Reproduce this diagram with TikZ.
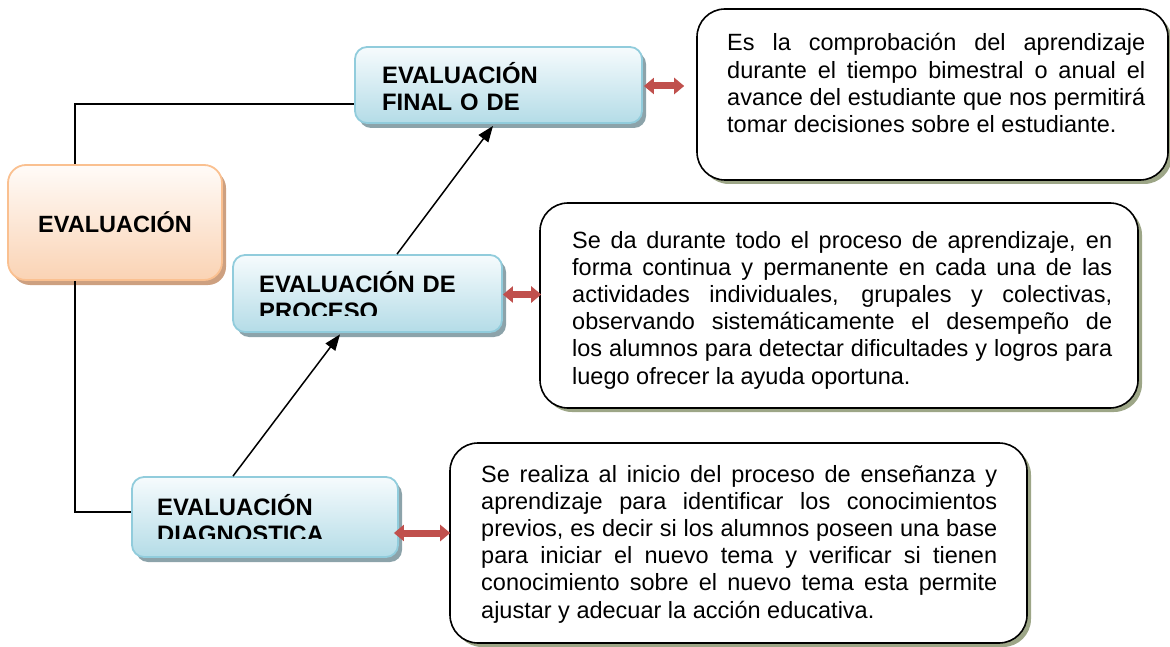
\documentclass[tikz,border=0pt]{standalone}
\usepackage{fontspec}
\setmainfont{Liberation Sans}
\usetikzlibrary{arrows.meta,shadows,calc}
\definecolor{redA}{RGB}{192,80,77}
\definecolor{tborder}{RGB}{145,204,220}
\definecolor{ttop}{RGB}{246,251,253}
\definecolor{tbot}{RGB}{180,220,231}
\definecolor{tshadow}{RGB}{140,163,170}
\definecolor{eborder}{RGB}{250,192,144}
\definecolor{etop}{RGB}{255,251,248}
\definecolor{ebot}{RGB}{250,211,180}
\definecolor{eshadow}{RGB}{205,160,128}
\definecolor{dshadow}{RGB}{157,166,135}
\begin{document}
\begin{tikzpicture}[x=1pt,y=-1pt,
  tbox/.style={rounded corners=12pt, draw=tborder, line width=1.8pt,
    top color=ttop, bottom color=tbot,
    drop shadow={shadow xshift=4pt, shadow yshift=-5pt, fill=tshadow, opacity=1}},
  evbox/.style={rounded corners=18pt, draw=eborder, line width=1.8pt,
    top color=etop, bottom color=ebot,
    drop shadow={shadow xshift=4pt, shadow yshift=-5pt, fill=eshadow, opacity=1},
    font=\bfseries\fontsize{23.5}{27}\selectfont},
  dbox/.style={rounded corners=28pt, draw=black, line width=1.6pt, fill=white,
    drop shadow={shadow xshift=4pt, shadow yshift=-4pt, fill=dshadow, opacity=1}},
  ttext/.style={anchor=base west, inner sep=0pt, text width=260pt, align=left,
    font=\bfseries\fontsize{23.8}{27}\selectfont},
  dtext/.style={anchor=base west, inner sep=0pt, align=justify,
    font=\fontsize{23.5}{27.2}\selectfont},
  redarr/.style={draw=redA, line width=7pt,
    arrows={Triangle[width=16pt,length=10pt]-Triangle[width=16pt,length=10pt]}},
  blkarr/.style={draw=black, line width=1.5pt, -{Triangle[width=12pt,length=16pt]}},
  tree/.style={draw=black, line width=1.5pt}
]
\useasboundingbox (0,0) rectangle (1170,647);

% description boxes
\node[dbox, minimum width=471pt, minimum height=171pt] (d1) at (932.5,94.5) {};
\node[dbox, minimum width=598pt, minimum height=205pt] (d2) at (839,305.5) {};
\node[dbox, minimum width=577pt, minimum height=200pt] (d3) at (738.5,543) {};

\node[dtext, text width=418pt] (d1t) at (727,51) {\hyphenpenalty=10000 Es la comprobación del aprendizaje\linebreak durante el tiempo bimestral o anual el\linebreak avance del estudiante que nos permitirá\linebreak tomar decisiones sobre el estudiante.};
\node[dtext, text width=540pt] (d2t) at (572,248) {\hyphenpenalty=10000 Se da durante todo el proceso de aprendizaje, en\linebreak forma continua y permanente en cada una de las\linebreak actividades individuales, grupales y colectivas,\linebreak observando sistemáticamente el desempeño de\linebreak los alumnos para detectar dificultades y logros para\linebreak luego ofrecer la ayuda oportuna.};
\node[dtext, text width=516pt] (d3t) at (481,482) {\hyphenpenalty=10000 Se realiza al inicio del proceso de enseñanza y\linebreak aprendizaje para identificar los conocimientos\linebreak previos, es decir si los alumnos poseen una base\linebreak para iniciar el nuevo tema y verificar si tienen\linebreak conocimiento sobre el nuevo tema esta permite\linebreak ajustar y adecuar la acción educativa.};

% title boxes
\node[evbox, minimum width=214pt, minimum height=115pt] (ev) at (115,222.5) {EVALUACIÓN};
\node[tbox, minimum width=287pt, minimum height=76pt] (final) at (498.5,85) {};
\node[tbox, minimum width=269pt, minimum height=77pt] (proc) at (367.5,293.5) {};
\node[tbox, minimum width=266pt, minimum height=80pt] (diag) at (265,517) {};

\begin{scope}
  \clip (355,47) rectangle (642,110);
  \node[ttext] (finalt) at (382,84) {EVALUACIÓN\\FINAL O DE};
\end{scope}
\begin{scope}
  \clip (233,255) rectangle (502,315);
  \node[ttext] (proct) at (259,292) {EVALUACIÓN DE\\PROCESO};
\end{scope}
\begin{scope}
  \clip (132,477) rectangle (398,538);
  \node[ttext] (diagt) at (157,515) {EVALUACIÓN\\DIAGNOSTICA};
\end{scope}

% tree lines
\coordinate (evt) at ($(ev.north)+(-40,0)$);
\coordinate (evb) at ($(ev.south)+(-40,0)$);
\coordinate (fl) at ($(final.west)+(0,19)$);
\coordinate (dl) at ($(diag.west)+(0,-5)$);
\draw[tree] (evt) |- (fl);
\draw[tree] (evb) |- (dl);

% black arrows
\draw[blkarr] ($(diag.north)+(-32,0)$) -- ($(proc.south)+(-27.5,1.5)$);
\draw[blkarr] ($(proc.north)+(29.5,0)$) -- ($(final.south)+(-5.5,2)$);

% red double arrows
\coordinate (a1) at ($(final.east)+(1,1)$);
\coordinate (a2) at ($(proc.east)+(0,1)$);
\coordinate (a3) at ($(diag.east)+(0,16)$);
\draw[redarr, shorten >=12pt] (a1) -- (a1 -| d1.west);
\draw[redarr, shorten >=-2pt] (a2) -- (a2 -| d2.west);
\draw[redarr, shorten <=-5pt, shorten >=-1pt] (a3) -- (a3 -| d3.west);
\end{tikzpicture}
\end{document}
